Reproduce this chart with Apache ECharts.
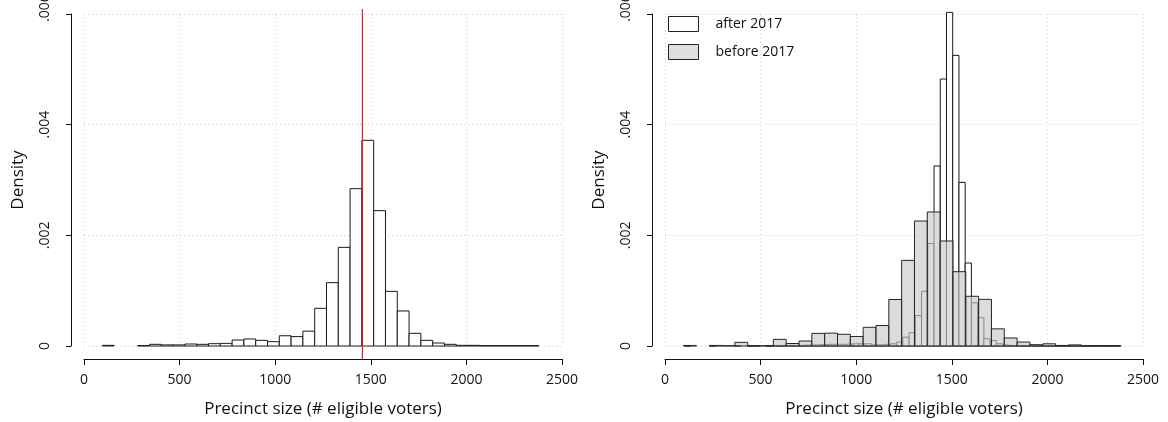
<!DOCTYPE html>
<html>
<head>
<meta charset="utf-8">
<script src="https://cdn.jsdelivr.net/npm/echarts@6/dist/echarts.min.js"></script>
<style>
html,body{margin:0;padding:0;background:#fff;}
#chart{width:1168px;height:422px;}
</style>
</head>
<body>
<div id="chart"></div>
<script>
// ---------- data ----------
const xTickValues = [0, 500, 1000, 1500, 2000, 2500];
const yTickValues = [0, 0.002, 0.004, 0.006];

// left panel: all precincts
const allBinStart = 96;
const allBinWidth = 61.7;
const allDensity = [
  0.000012, 0, 0, 0.000008, 0.00003, 0.00002, 0.00002, 0.000036, 0.00003, 0.000042,
  0.000048, 0.000108, 0.000127, 0.000102, 0.000078, 0.000185, 0.000170, 0.000268, 0.000681, 0.001145,
  0.001783, 0.002843, 0.003717, 0.002446, 0.000988, 0.000633, 0.000229, 0.000102, 0.000054, 0.00003,
  0.000012, 0.000012, 0.000006, 0.000006, 0.000006, 0.000006, 0.000006
];
const meanSize = 1456;

// right panel: before 2017
const beforeBinStart = 97;
const beforeBinWidth = 67.1;
const beforeDensity = [
  0.00001, 0, 0.00001, 0.000005, 0.000066, 0.000005, 0.000005, 0.00012, 0.000045, 0.00009,
  0.000228, 0.000232, 0.000212, 0.000172, 0.000338, 0.00037, 0.00084, 0.001548, 0.002259, 0.002422,
  0.001898, 0.001343, 0.000898, 0.000843, 0.000310, 0.000145, 0.000072, 0.000024, 0.00004, 0.00001,
  0.00002, 0.000005, 0.000005, 0.000005
];

// right panel: after 2017
const afterBinStart = 103;
const afterBinWidth = 32.6;
const afterDensity = [
  0.000005, 0, 0, 0, 0.000005, 0, 0, 0, 0.000005, 0,
  0.000005, 0.000005, 0, 0.000005, 0.00001, 0.000005, 0.00001, 0.00001, 0.00001, 0.000015,
  0.00002, 0.00002, 0.000025, 0.00003, 0.00003, 0.00003, 0.000035, 0.00004, 0.00004, 0.00004,
  0.00002, 0.00002, 0.00003, 0.00004, 0.000072, 0.00016, 0.00024, 0.00055, 0.00099, 0.00185,
  0.003253, 0.004825, 0.00603, 0.005252, 0.002957, 0.0015, 0.00078, 0.00051, 0.00013, 0.0001,
  0.00004, 0.00002, 0.00001, 0.00001, 0.000005, 0.00001, 0.000005, 0.000005, 0.000005, 0.000005,
  0.000005, 0.000005, 0.000005, 0.000005, 0.000005, 0.000005, 0.000005, 0.000005, 0.000005, 0.000005
];

const seriesNames = ['after 2017', 'before 2017'];
const xTitle = 'Precinct size (# eligible voters)';
const yTitle = 'Density';

// ---------- helpers ----------
function toBins(start, width, dens) {
  const out = [];
  dens.forEach((d, i) => {
    if (d > 0) out.push([start + i * width, start + (i + 1) * width, d]);
  });
  return out;
}

const FONT = '"Open Sans", "Noto Sans", sans-serif';

function barRenderer(fill, stroke) {
  return function (params, api) {
    const p0 = api.coord([api.value(0), api.value(2)]);
    const p1 = api.coord([api.value(1), 0]);
    return {
      type: 'rect',
      shape: { x: p0[0], y: p0[1], width: p1[0] - p0[0], height: p1[1] - p0[1] },
      style: { fill: fill, stroke: stroke, lineWidth: 1 }
    };
  };
}

function makeX(idx) {
  return {
    type: 'value', gridIndex: idx, min: 0, max: 2500, interval: 500,
    offset: 13,
    name: xTitle, nameLocation: 'middle', nameGap: 42,
    nameTextStyle: { fontFamily: FONT, fontSize: 17, color: '#111' },
    axisLine: { show: true, onZero: false, lineStyle: { color: '#111', width: 1 } },
    axisTick: { show: true, length: 6, lineStyle: { color: '#111' } },
    axisLabel: {
      fontFamily: FONT, fontSize: 14, color: '#111', margin: 14,
      formatter: function (v) { return String(v); }
    },
    splitLine: { show: true, lineStyle: { color: '#cfcfcf', type: [1, 3], width: 1 } }
  };
}
function makeY(idx) {
  return {
    type: 'value', gridIndex: idx, min: 0, max: 0.006, interval: 0.002,
    offset: 13,
    name: yTitle, nameLocation: 'middle', nameGap: 44, nameRotate: 90,
    nameTextStyle: { fontFamily: FONT, fontSize: 17, color: '#111' },
    axisLine: { show: true, onZero: false, lineStyle: { color: '#111', width: 1 } },
    axisTick: { show: true, length: 5, lineStyle: { color: '#111' } },
    axisLabel: {
      fontFamily: FONT, fontSize: 14, color: '#111', rotate: 90, margin: 19,
      formatter: function (v) {
        if (v === 0) return '0';
        const s = '.' + String(Math.round(v * 1000)).padStart(3, '0');
        return v >= 0.006 - 1e-9 ? '{sp| }' + s : s;
      },
      rich: { sp: { width: 12, fontSize: 14 } }
    },
    splitLine: { show: true, lineStyle: { color: '#cfcfcf', type: [1, 3], width: 1 } }
  };
}

const option = {
  animation: false,
  backgroundColor: '#fff',
  textStyle: { fontFamily: FONT },
  grid: [
    { left: 84, top: 14, width: 478, height: 332, containLabel: false, outerBoundsMode: 'none' },
    { left: 665, top: 14, width: 478, height: 332, containLabel: false, outerBoundsMode: 'none' }
  ],
  xAxis: [makeX(0), makeX(1)],
  yAxis: [makeY(0), makeY(1)],
  legend: {
    left: 663, top: 11, orient: 'vertical', selectedMode: false,
    itemWidth: 30, itemHeight: 15, itemGap: 12,
    textStyle: { fontFamily: FONT, fontSize: 14, color: '#111', padding: [0, 0, 0, 12] },
    data: [
      { name: seriesNames[0], icon: 'rect', itemStyle: { color: '#ffffff', borderColor: '#222', borderWidth: 1 } },
      { name: seriesNames[1], icon: 'rect', itemStyle: { color: '#dedede', borderColor: '#222', borderWidth: 1 } }
    ]
  },
  series: [
    {
      name: 'all', type: 'custom', xAxisIndex: 0, yAxisIndex: 0, clip: false,
      encode: { x: [0, 1], y: 2 },
      renderItem: barRenderer('#ffffff', '#1a1a1a'),
      data: toBins(allBinStart, allBinWidth, allDensity)
    },
    {
      name: 'mean', type: 'custom', xAxisIndex: 0, yAxisIndex: 0, clip: false,
      encode: { x: 0 },
      renderItem: function (params, api) {
        const p = api.coord([api.value(0), 0]);
        const cs = params.coordSys;
        return {
          type: 'line',
          shape: { x1: p[0], y1: cs.y - 5, x2: p[0], y2: cs.y + cs.height + 13 },
          style: { stroke: '#a83a3a', lineWidth: 1.2 }
        };
      },
      data: [[meanSize]]
    },
    {
      name: seriesNames[0], type: 'custom', xAxisIndex: 1, yAxisIndex: 1, clip: false,
      encode: { x: [0, 1], y: 2 },
      renderItem: barRenderer('#ffffff', '#1a1a1a'),
      data: toBins(afterBinStart, afterBinWidth, afterDensity)
    },
    {
      name: seriesNames[1], type: 'custom', xAxisIndex: 1, yAxisIndex: 1, clip: false,
      encode: { x: [0, 1], y: 2 },
      renderItem: barRenderer('rgba(200,200,200,0.64)', '#262626'),
      data: toBins(beforeBinStart, beforeBinWidth, beforeDensity)
    }
  ]
};

const chart = echarts.init(document.getElementById('chart'), null, { renderer: 'canvas' });
chart.setOption(option);
</script>
</body>
</html>
